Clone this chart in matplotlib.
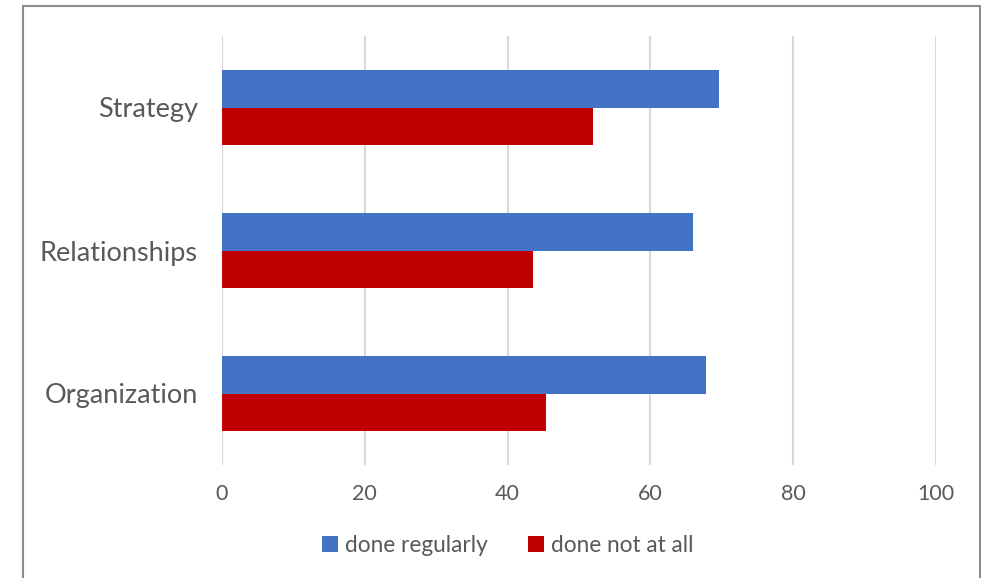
import numpy as np
import matplotlib.pyplot as plt
from matplotlib.patches import Rectangle

plt.rcParams['font.family'] = ['Lato', 'DejaVu Sans']

categories = ['Organization', 'Relationships', 'Strategy']
done_regularly = [67.8, 66.0, 69.6]
done_not_at_all = [45.4, 43.5, 52.0]
xticks = [0, 20, 40, 60, 80, 100]

text_col = '#595959'
blue = '#4472C4'
red = '#C00000'

fig = plt.figure(figsize=(9.87, 5.78), dpi=100)
ax = fig.add_axes([222/987, 1-465/578, (936-222)/987, (465-36)/578])

y = np.arange(len(categories))
h = 0.262
ax.barh(y + h/2, done_regularly, height=h, color=blue, label='done regularly', zorder=3)
ax.barh(y - h/2, done_not_at_all, height=h, color=red, label='done not at all', zorder=3)

ax.set_xlim(0, 100)
ax.set_ylim(-0.5, 2.5)
ax.set_xticks(xticks)
ax.set_yticks(y)
ax.set_yticklabels(categories)
ax.grid(axis='x', color='#d9d9d9', linewidth=1.5, zorder=0)
for s in ax.spines.values():
    s.set_visible(False)
ax.tick_params(axis='y', length=0, pad=17.5, labelsize=19.5, labelcolor=text_col)
ax.tick_params(axis='x', length=0, pad=14, labelsize=15.5, labelcolor=text_col)

# legend below the plot
fig.legend(loc='center', bbox_to_anchor=(508/987, 1-545/578), ncol=2, frameon=False,
           fontsize=16.3, labelcolor=text_col, handlelength=0.7, handleheight=0.7,
           handletextpad=0.3, columnspacing=1.8)

# chart border
fig.patches.append(Rectangle((23/987, -0.01), (980-23)/987, 1-6/578+0.01,
                             transform=fig.transFigure, fill=False,
                             edgecolor='#8c8c8c', linewidth=1.5))

fig.savefig('out.png', dpi=100)
